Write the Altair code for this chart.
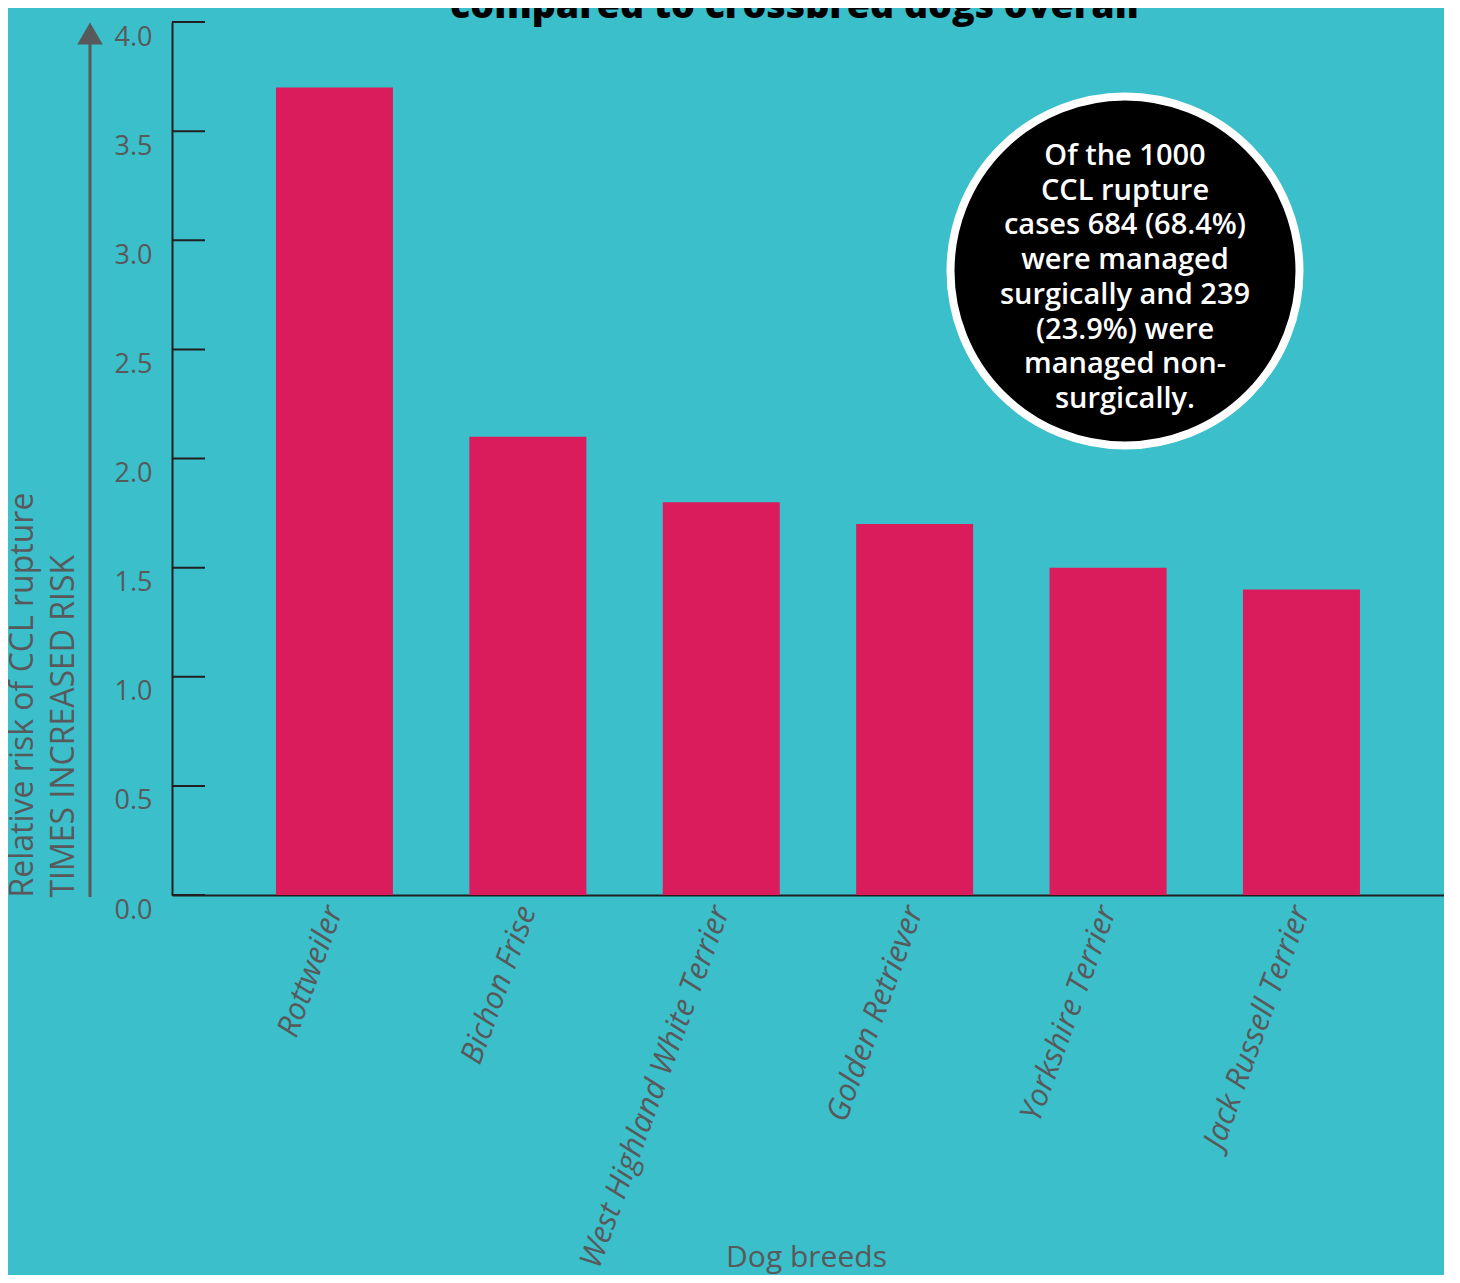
import altair as alt
import pandas as pd

# ---- data ----
breeds = ["Rottweiler", "Bichon Frise", "West Highland White Terrier",
          "Golden Retriever", "Yorkshire Terrier", "Jack Russell Terrier"]
risks = [3.7, 2.1, 1.8, 1.7, 1.5, 1.4]
y_ticks = [0.0, 0.5, 1.0, 1.5, 2.0, 2.5, 3.0, 3.5, 4.0]
title_text = "compared to crossbred dogs overall"
circle_lines = ["Of the 1000", "CCL rupture", "cases 684 (68.4%)", "were managed",
                "surgically and 239", "(23.9%) were", "managed non-", "surgically."]
y_title = ["Relative risk of CCL rupture", "TIMES INCREASED RISK"]
x_title = "Dog breeds"

BG = "#3bbfca"
BAR = "#da1c5c"
GRAY = "#58595b"
DARK = "#231f20"
FONT = "Open Sans"

W, H = 1272, 873

df = pd.DataFrame({"breed": breeds, "risk": risks})
tick_df = pd.DataFrame({"v": y_ticks})

yscale = alt.Scale(domain=[0, 4], nice=False, zero=True)
yaxis = alt.Axis(values=y_ticks, format=".1f", ticks=False, tickSize=0,
                 labelPadding=20, labelBaseline="middle", labelOffset=15,
                 labelFont=FONT, labelFontSize=27, labelColor=GRAY,
                 domainColor=DARK, domainWidth=2, grid=False,
                 title=y_title, titleAngle=270, titleAlign="left",
                 titleBaseline="alphabetic", titleX=-140, titleY=875,
                 titleLineHeight=41, titleFont=FONT, titleFontSize=32,
                 titleFontWeight="normal", titleColor=GRAY)

bars = alt.Chart(df).mark_bar(color=BAR).encode(
    x=alt.X("breed:N", sort=breeds,
            scale=alt.Scale(paddingInner=0.395, paddingOuter=0.486, align=0.553),
            axis=alt.Axis(title=x_title, labelAngle=-70, labelAlign="right",
                          labelBaseline="middle", labelPadding=12, labelLimit=0,
                          labelFontStyle="italic", labelFont=FONT, labelFontSize=31,
                          labelColor=GRAY, ticks=False, tickSize=0,
                          domainColor=DARK, domainWidth=2,
                          titleFont=FONT, titleFontSize=30, titleFontWeight="normal",
                          titleColor=GRAY, titleX=634, titleY=371,
                          titleAlign="center", titleBaseline="alphabetic")),
    y=alt.Y("risk:Q", scale=yscale, axis=yaxis),
)

ticks = alt.Chart(tick_df).mark_rule(color=DARK, strokeWidth=2).encode(
    y=alt.Y("v:Q", scale=yscale, axis=yaxis),
    x=alt.value(0), x2=alt.value(33),
)

arrow_line = alt.Chart(pd.DataFrame({"a": [0]})).mark_rule(color=GRAY, strokeWidth=3).encode(
    x=alt.value(-82), y=alt.value(875), y2=alt.value(22),
)
arrow_head = alt.Chart(pd.DataFrame({"a": [0]})).mark_point(
    shape="triangle-up", filled=True, color=GRAY, opacity=1, size=650
).encode(x=alt.value(-82), y=alt.value(11.5))

title = alt.Chart(pd.DataFrame({"t": [title_text]})).mark_text(
    font=FONT, fontSize=37.5, fontWeight=800, color="black",
    align="center", baseline="alphabetic"
).encode(text="t:N", x=alt.value(622.5), y=alt.value(-4))

circle = alt.Chart(pd.DataFrame({"a": [0]})).mark_circle(
    color="black", opacity=1, stroke="white", strokeWidth=8, size=121801
).encode(x=alt.value(953), y=alt.value(249))

circle_text = alt.Chart(pd.DataFrame({"t": ["\n".join(circle_lines)]})).mark_text(
    font=FONT, fontSize=29, fontWeight=600, color="white", align="center",
    baseline="middle", lineBreak="\n", lineHeight=34.7
).encode(text="t:N", x=alt.value(953), y=alt.value(134))

chart = alt.layer(bars, ticks, arrow_line, arrow_head, circle, circle_text, title).properties(
    width=W, height=H,
    autosize=alt.AutoSizeParams(type="none"),
    padding={"left": 164, "top": 14, "right": 0, "bottom": 380},
    background=BG,
).configure_view(stroke=None)

chart.save("out.html", embed_options={"renderer": "svg", "actions": False})
